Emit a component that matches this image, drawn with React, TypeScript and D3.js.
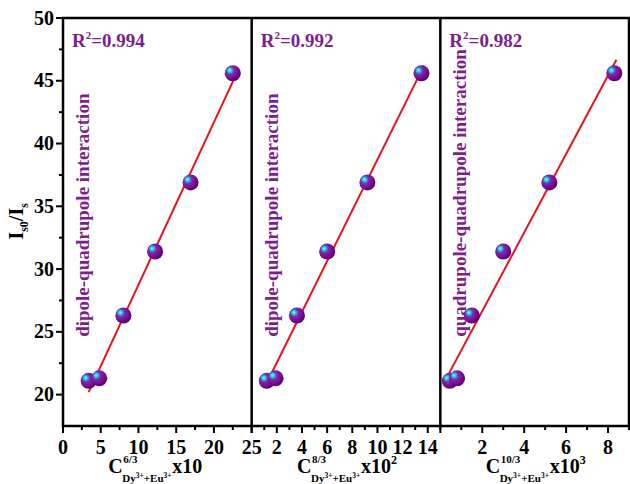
import { useEffect } from "react";
import * as d3 from "d3";

// Is0/Is values (same for all three panels)
const yValues = [21.1, 21.3, 26.3, 31.4, 36.9, 45.6];
// x values, one array per panel
const xPanel1 = [3.4, 4.8, 8.0, 12.2, 16.9, 22.5];
const xPanel2 = [1.2, 1.9, 3.6, 6.0, 9.2, 13.5];
const xPanel3 = [0.45, 0.8, 1.5, 3.0, 5.2, 8.3];
// extent of the fitted lines
const fitExtent1 = [3.4, 22.7];
const fitExtent2 = [1.1, 13.7];
const fitExtent3 = [0.35, 8.4];

const r2Labels = ["0.994", "0.992", "0.982"];
const interactionLabels = [
  "dipole-quadrupole interaction",
  "dipole-quadrupole interaction",
  "quadrupole-quadrupole interaction",
];
const powerLabels = ["6/3", "8/3", "10/3"];
const exponentLabels = ["", "2", "3"];

const xDomains = [[0, 25], [0, 15], [0, 9]];
const majorTicks = [
  [0, 5, 10, 15, 20, 25],
  [0, 2, 4, 6, 8, 10, 12, 14],
  [0, 2, 4, 6, 8],
];
const minorTicks = [
  [2.5, 7.5, 12.5, 17.5, 22.5],
  [1, 3, 5, 7, 9, 11, 13, 15],
  [1, 3, 5, 7, 9],
];
const hiddenLabels = [[], [0], [0]];
const yMajor = [20, 25, 30, 35, 40, 45, 50];
const yMinor = [22.5, 27.5, 32.5, 37.5, 42.5, 47.5];

const width = 630;
const height = 484;
const margin = { top: 18, right: 1, bottom: 58, left: 63 };
const font = "'Liberation Serif', 'Times New Roman', serif";
const purple = "#7d1e8a";

function fitLine(xs: number[], ys: number[]) {
  const mx = d3.mean(xs)!;
  const my = d3.mean(ys)!;
  const sxy = d3.sum(xs, (x, i) => (x - mx) * (ys[i] - my));
  const sxx = d3.sum(xs, (x) => (x - mx) * (x - mx));
  const slope = sxy / sxx;
  return (x: number) => my + slope * (x - mx);
}

export default function App() {
  useEffect(() => {
    document.body.style.margin = "0";
  }, []);

  const innerWidth = width - margin.left - margin.right;
  const innerHeight = height - margin.top - margin.bottom;
  const panelWidth = innerWidth / 3;

  const yScale = d3.scaleLinear([17.5, 50], [margin.top + innerHeight, margin.top]);
  const xs = [xPanel1, xPanel2, xPanel3];
  const fits = [fitExtent1, fitExtent2, fitExtent3];
  const bottom = margin.top + innerHeight;

  const panels = xDomains.map((dom, i) => {
    const x0 = margin.left + i * panelWidth;
    const xScale = d3.scaleLinear(dom, [x0, x0 + panelWidth]);
    const f = fitLine(xs[i], yValues);
    const line = d3
      .line<number>()
      .x((d) => xScale(d))
      .y((d) => yScale(f(d)));
    return { x0, xScale, line, i };
  });

  return (
    <svg width={width} height={height} style={{ display: "block" }} fontFamily={font}>
      <defs>
        <radialGradient id="ball" cx="0.38" cy="0.38" r="0.62" fx="0.3" fy="0.3">
          <stop offset="0%" stopColor="#8ffaff" />
          <stop offset="20%" stopColor="#22c4ea" />
          <stop offset="40%" stopColor="#7430a8" />
          <stop offset="72%" stopColor="#820a94" />
          <stop offset="100%" stopColor="#5a006e" />
        </radialGradient>
      </defs>
      <rect width={width} height={height} fill="#fff" />

      {/* y axis ticks */}
      {yMajor.map((v) => (
        <g key={"ym" + v}>
          <line x1={margin.left - 7} x2={margin.left} y1={yScale(v)} y2={yScale(v)} stroke="#000" strokeWidth={2} />
          <text x={margin.left - 9} y={yScale(v) + 6.5} textAnchor="end" fontSize={20} fontWeight="bold">
            {v}
          </text>
        </g>
      ))}
      {yMinor.map((v) => (
        <line key={"yn" + v} x1={margin.left - 4} x2={margin.left} y1={yScale(v)} y2={yScale(v)} stroke="#000" strokeWidth={2} />
      ))}

      {/* y axis title */}
      <text transform={`translate(23, ${yScale(33.8)}) rotate(-90)`} textAnchor="middle" fontSize={20} fontWeight="bold">
        I<tspan fontSize={12} dy={5}>s0</tspan>
        <tspan dy={-5}>/I</tspan>
        <tspan fontSize={12} dy={5}>s</tspan>
      </text>

      {panels.map(({ x0, xScale, line, i }) => (
        <g key={"p" + i}>
          {majorTicks[i].map((t) => (
            <g key={"xm" + t}>
              <line x1={xScale(t)} x2={xScale(t)} y1={bottom} y2={bottom + 7} stroke="#000" strokeWidth={2} />
              {!hiddenLabels[i].includes(t) && (
                <text x={xScale(t)} y={bottom + 28} textAnchor="middle" fontSize={20} fontWeight="bold">
                  {t}
                </text>
              )}
            </g>
          ))}
          {minorTicks[i].map((t) => (
            <line key={"xn" + t} x1={xScale(t)} x2={xScale(t)} y1={bottom} y2={bottom + 4} stroke="#000" strokeWidth={2} />
          ))}

          <path d={line(fits[i]) ?? ""} fill="none" stroke="#e8141c" strokeWidth={2} />
          {xs[i].map((x, j) => (
            <circle key={"c" + j} cx={xScale(x)} cy={yScale(yValues[j])} r={8} fill="url(#ball)" />
          ))}

          <text x={x0 + 9} y={margin.top + 29} fontSize={19} fontWeight="bold" fill={purple}>
            R<tspan fontSize={11} dy={-8}>2</tspan>
            <tspan dy={8}>=</tspan>
            {r2Labels[i]}
          </text>

          <text
            transform={`translate(${x0 + 26}, ${yScale(24.6)}) rotate(-90)`}
            fontSize={19}
            fontWeight="bold"
            fill={purple}
          >
            {interactionLabels[i]}
          </text>

          <g transform={`translate(${x0 + panelWidth / 2 - 49}, ${bottom + 47})`} fontWeight="bold">
            <text x={0} y={0} fontSize={20}>C</text>
            <text x={15} y={-10} fontSize={11}>{powerLabels[i]}</text>
            <text x={14} y={9} fontSize={11}>
              Dy<tspan fontSize={7.5} dy={-4}>3+</tspan>
              <tspan dy={4}>+Eu</tspan>
              <tspan fontSize={7.5} dy={-4}>3+</tspan>
            </text>
            <text x={64} y={0} fontSize={20}>
              x10
              {exponentLabels[i] && (
                <tspan fontSize={12} dy={-9}>
                  {exponentLabels[i]}
                </tspan>
              )}
            </text>
          </g>
        </g>
      ))}

      {/* frame and dividers */}
      <rect x={margin.left} y={margin.top} width={innerWidth} height={innerHeight} fill="none" stroke="#000" strokeWidth={2.5} />
      {[1, 2].map((k) => (
        <line
          key={"d" + k}
          x1={margin.left + k * panelWidth}
          x2={margin.left + k * panelWidth}
          y1={margin.top}
          y2={bottom}
          stroke="#000"
          strokeWidth={2.5}
        />
      ))}
    </svg>
  );
}
